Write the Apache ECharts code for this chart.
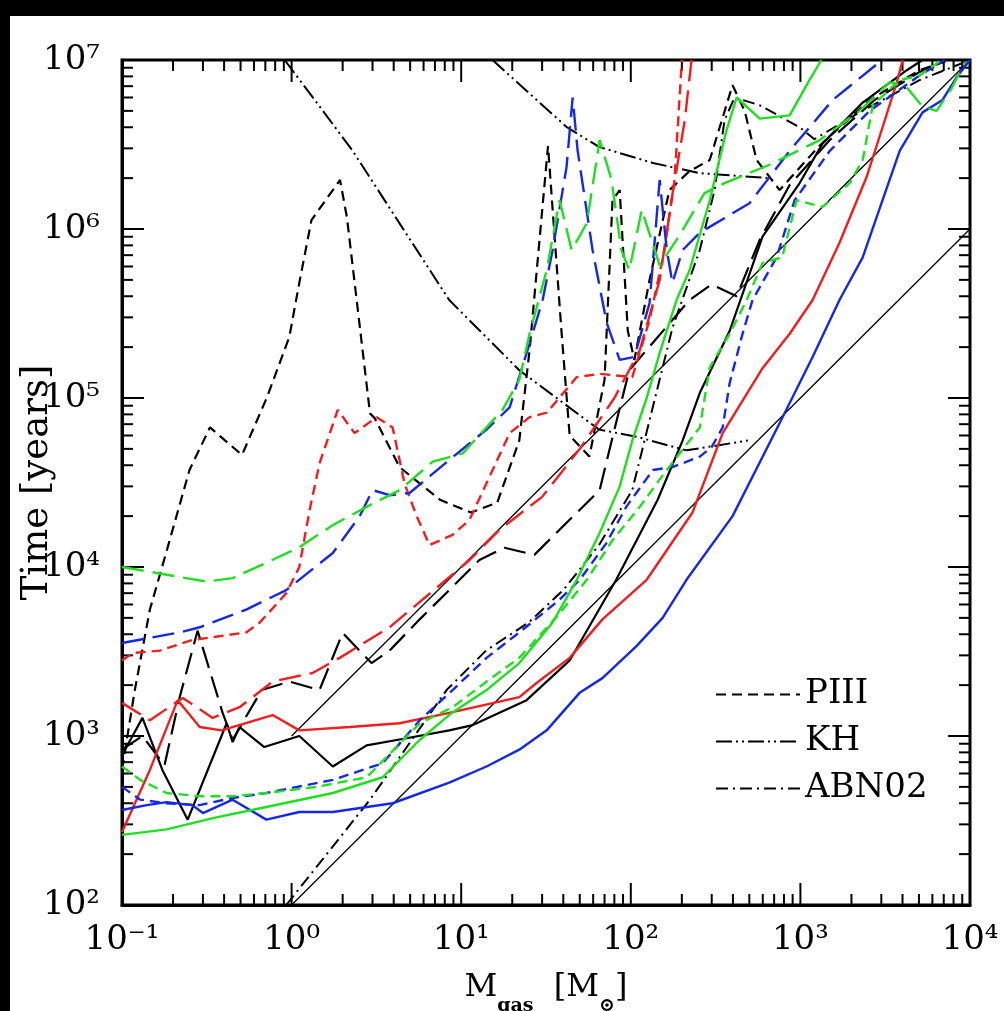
<!DOCTYPE html>
<html>
<head>
<meta charset="utf-8">
<script src="https://cdn.jsdelivr.net/npm/echarts@6/dist/echarts.min.js"></script>
<style>
  html, body { margin: 0; padding: 0; background: #fff; }
  #chart { width: 1004px; height: 1011px; }
</style>
</head>
<body>
<div id="chart"></div>
<script>
// accretion / contraction time scales vs gas mass

// axis ticks
const xMajor = [0.1, 1, 10, 100, 1000, 10000]
const yMajor = [100, 1000, 1e4, 1e5, 1e6, 1e7]
const minorSteps = [2, 3, 4, 5, 6, 7, 8, 9]

// reference lines t = 1000 M and t = 100 M
const thin1000 = [[1, 1000], [10000, 1e7]]
const thin100 = [[1, 100], [10000, 1e6]]

// black curves
const abn02 = [[0.93, 100], [2.9, 420], [8.2, 1870], [14, 3200], [25, 4700], [40, 7300], [65, 13500], [102, 28500], [176, 2.6e5], [255, 7.5e5], [312, 1.7e6], [357, 4.4e6], [409, 6e6], [575, 5.4e6], [990, 4e6], [1210, 3.4e6], [2230, 4.9e6], [5040, 7.6e6], [10000, 1e7]]
const khLower = [[0.91, 1e7], [1.37, 5.8e6], [2.29, 2.9e6], [4.33, 1.08e6], [8.5, 3.8e5], [22, 1.46e5], [65, 6.5e4], [108, 5.9e4], [213, 4.9e4], [490, 5.6e4]]
const khUpper = [[15.3, 1e7], [42, 4e6], [65, 3.06e6], [135, 2.46e6], [255, 2.14e6], [438, 2.06e6], [658, 2e6]]
const blackSolid = [[0.1, 770], [0.132, 1280], [0.173, 630], [0.244, 320], [0.414, 1190], [0.449, 920], [0.493, 1130], [0.69, 860], [1.11, 1000], [1.75, 660], [2.77, 880], [4.76, 970], [8.5, 1080], [11.7, 1160], [24.3, 1630], [43.6, 2800], [82, 8400], [144, 2.5e4], [202, 5.6e4], [255, 1.07e5], [383, 2.5e5], [598, 9e5], [990, 1.87e6], [1350, 3.2e6], [2330, 5.6e6], [4240, 8.7e6], [5250, 1e7]]
const blackLong = [[0.1, 830], [0.132, 1000], [0.178, 670], [0.219, 1700], [0.279, 4200], [0.392, 1370], [0.449, 950], [0.666, 1870], [0.97, 2100], [1.46, 1870], [2.0, 4070], [2.96, 2700], [3.78, 3200], [5.69, 4900], [8.5, 7300], [12.8, 1.1e4], [18, 1.3e4], [27, 1.18e4], [38, 1.66e4], [65.5, 2.85e4], [80, 6.5e4], [98, 1.46e5], [222, 3.8e5], [299, 4.7e5], [421, 4e5], [575, 8.6e5], [864, 1.82e6], [1490, 3.36e6], [2740, 5.8e6], [5040, 8.5e6], [7080, 1e7]]
const blackShort = [[0.1, 630], [0.119, 1870], [0.146, 5600], [0.184, 1.26e4], [0.25, 3.75e4], [0.33, 6.7e4], [0.51, 4.6e4], [0.716, 1.01e5], [0.97, 2.3e5], [1.11, 4.8e5], [1.31, 1.13e6], [1.93, 1.95e6], [2.12, 1.17e6], [2.9, 8.1e4], [3.09, 7.6e4], [4.33, 3.9e4], [7.5, 2.5e4], [11.4, 2.1e4], [16.3, 2.4e4], [22, 5.6e4], [25.3, 1.92e5], [32.5, 3.1e6], [39, 2.5e5], [43.6, 6e4], [57, 4.5e4], [70, 1.28e5], [78, 1.48e6], [86, 1.7e6], [96, 2.5e5], [105, 1.68e5], [129, 5e5], [169, 1.7e6], [222, 2.2e6], [292, 2.56e6], [398, 7.1e6], [469, 5e6], [552, 2.56e6], [754, 1.7e6], [1290, 3.1e6], [2560, 5.8e6], [5040, 8.7e6], [7590, 1e7]]

// red curves
const redSolid = [[0.1, 270], [0.146, 630], [0.213, 1630], [0.287, 1130], [0.386, 1080], [0.773, 1330], [1.11, 1080], [2.2, 1130], [4.33, 1190], [8.5, 1370], [22, 1700], [27.8, 2060], [43.6, 2900], [68, 4900], [124, 8400], [231, 2.1e4], [348, 6.2e4], [598, 1.5e5], [864, 2.4e5], [1180, 3.8e5], [1700, 8.3e5], [2455, 2.03e6], [3050, 4e6], [3690, 7.3e6], [4010, 1e7]]
const redShort = [[0.1, 2800], [0.116, 3100], [0.167, 3200], [0.26, 3700], [0.54, 4100], [0.65, 4700], [0.93, 7000], [1.11, 1e4], [1.28, 2.2e4], [1.46, 4.1e4], [1.87, 8.5e4], [2.35, 6.2e4], [3.17, 7.7e4], [3.94, 6.7e4], [4.64, 3.1e4], [5.46, 2e4], [6.5, 1.35e4], [8.9, 1.55e4], [11.2, 1.9e4], [19.3, 6.2e4], [25.3, 7.7e4], [32, 8.2e4], [48, 1.33e5], [65.5, 1.39e5], [102, 1.33e5], [129, 2.9e5], [158, 7.5e5], [181, 1.95e6], [200, 1e7]]
const redLong = [[0.1, 1570], [0.146, 1240], [0.228, 1680], [0.342, 1280], [0.493, 1480], [0.773, 2100], [1.33, 2360], [1.92, 2900], [3.78, 4400], [8.5, 8700], [11.2, 1.1e4], [16.8, 1.66e4], [30, 2.6e4], [50, 5e4], [80, 1e5], [113, 1.92e5], [148, 5e5], [174, 1.5e6], [208, 4.4e6], [228, 1e7]]

// blue curves
const blueSolid = [[0.1, 365], [0.14, 390], [0.183, 406], [0.26, 390], [0.3, 350], [0.449, 420], [0.71, 320], [1.11, 355], [1.75, 355], [3.94, 400], [8.5, 530], [14.1, 660], [22, 830], [31.9, 1080], [49.9, 1800], [68, 2200], [108, 3400], [154, 5000], [213, 8400], [398, 2e4], [785, 7.7e4], [1180, 1.75e5], [1700, 3.8e5], [2330, 6.8e5], [3050, 1.48e6], [3850, 2.9e6], [5250, 4.9e6], [6890, 5.8e6], [8330, 7.9e6], [10000, 1e7]]
const blueShort = [[0.1, 500], [0.128, 420], [0.183, 400], [0.287, 390], [0.449, 430], [0.71, 460], [1.75, 550], [3.44, 690], [5.7, 1240], [8.9, 1870], [14.1, 2900], [22, 4100], [38, 6400], [50, 8400], [72, 1.39e4], [94, 2.27e4], [135, 3.75e4], [176, 3.9e4], [255, 4.5e4], [299, 5.1e4], [348, 6.7e4], [383, 1.23e5], [456, 2.4e5], [522, 3.8e5], [724, 6.8e5], [925, 1.48e6], [1490, 2.9e6], [2560, 5e6], [5040, 8.1e6], [7080, 1e7]]
const blueLong = [[0.1, 3550], [0.218, 4100], [0.287, 4400], [0.54, 5600], [0.93, 7300], [1.75, 1.21e4], [2.52, 2e4], [3.0, 2.85e4], [3.78, 2.66e4], [4.96, 2.74e4], [8.5, 4.3e4], [14.1, 6.5e4], [19.3, 8.8e4], [25.3, 2.1e5], [30.2, 3.8e5], [34.6, 7.5e5], [41.8, 2.33e6], [45.4, 6e6], [48.6, 2.9e6], [59.5, 7.5e5], [72, 2.8e5], [86, 1.68e5], [105, 1.75e5], [129, 3.65e5], [148, 1.95e6], [163, 7.5e5], [176, 4.8e5], [202, 7.5e5], [255, 9.5e5], [501, 1.42e6], [864, 2.9e6], [1550, 5.8e6], [2810, 9.4e6], [3135, 1e7]]

// green curves
const greenSolid = [[0.1, 260], [0.183, 280], [0.36, 330], [0.71, 380], [1.75, 460], [3.44, 570], [5.7, 950], [8.8, 1370], [14.1, 1870], [22, 2700], [34.6, 4700], [48, 8400], [65.5, 1.59e4], [86, 3e4], [102, 5.6e4], [124, 1e5], [148, 1.85e5], [186, 3.8e5], [222, 5.7e5], [292, 1.48e6], [367, 3.85e6], [421, 6e6], [575, 4.5e6], [864, 4.7e6], [1130, 7.6e6], [1330, 1e7]]
const greenShort = [[0.1, 660], [0.128, 550], [0.183, 460], [0.287, 440], [0.449, 440], [0.71, 460], [1.4, 500], [2.77, 570], [5.7, 1190], [8.9, 1480], [14.1, 2100], [22, 2900], [38, 5300], [55, 8400], [78, 1.44e4], [113, 2.27e4], [148, 3.3e4], [194, 4.7e4], [255, 6.7e4], [292, 1.52e5], [383, 2.4e5], [482, 3.8e5], [598, 6.3e5], [780, 6.8e5], [950, 1.48e6], [1350, 1.35e6], [1950, 1.87e6], [2330, 2.56e6], [2670, 5.4e6], [3850, 7.6e6], [5040, 8.1e6], [6800, 1e7]]
const greenLong = [[0.1, 1e4], [0.183, 9000], [0.315, 8200], [0.449, 8600], [0.71, 1.06e4], [1.11, 1.31e4], [1.75, 1.77e4], [2.77, 2.27e4], [4.33, 2.85e4], [6.8, 4.2e4], [10.2, 4.7e4], [17.5, 8.5e4], [22, 1.28e5], [25.3, 2.4e5], [31.9, 5.7e5], [38, 1.48e6], [44.8, 7.5e5], [55, 1.08e6], [65.5, 3.36e6], [77, 1.95e6], [88, 7.5e5], [98, 5.7e5], [116, 1.3e6], [148, 6.1e5], [194, 9.2e5], [272, 1.63e6], [357, 1.87e6], [658, 2.4e6], [1300, 3.36e6], [2230, 5e6], [3360, 7.4e6], [4230, 6.9e6], [5250, 5.3e6], [6350, 5e6], [7800, 6.8e6], [9330, 9.7e6]]

const RED = '#f01e1e'
const BLUE = '#1428e6'
const GREEN = '#1ee01e'
const SHORT = [10, 6]
const LONG = [22, 9]
const KH = [16, 4, 2, 4, 2, 4]
const ABN = [12, 5, 2, 5]
const FONT = 'DejaVu Serif'

const sup = {'-': '\u207b', '0': '\u2070', '1': '\u00b9', '2': '\u00b2', '3': '\u00b3', '4': '\u2074', '5': '\u2075', '6': '\u2076', '7': '\u2077'}
function powLabel(v) {
  const e = String(Math.round(Math.log10(v)))
  return '10' + e.split('').map(c => sup[c]).join('')
}

function line(name, data, color, dash, width) {
  return {
    name, type: 'line', data,
    symbol: 'none', showSymbol: false, silent: true,
    lineStyle: { color, width, type: dash },
    itemStyle: { color },
  }
}

// tick data: [x, y, flag] with flag 1 = major
const xTicks = []
xMajor.forEach((d, i) => {
  xTicks.push([d, 100, 1])
  if (i < xMajor.length - 1) minorSteps.forEach(m => xTicks.push([d * m, 100, 0]))
})
const yTicks = []
yMajor.forEach((d, i) => {
  yTicks.push([0.1, d, 1])
  if (i < yMajor.length - 1) minorSteps.forEach(m => yTicks.push([0.1, d * m, 0]))
})

function tickLine(x1, y1, x2, y2) {
  return { type: 'line', shape: { x1, y1, x2, y2 }, style: { stroke: '#000', lineWidth: 2 } }
}

const chart = echarts.init(document.getElementById('chart'))
const options = {
  animation: false,
  backgroundColor: '#fff',
  graphic: [
    { type: 'rect', z: -10, shape: { x: 0, y: 0, width: 1004, height: 16 }, style: { fill: '#000' } },
    { type: 'rect', z: -10, shape: { x: 0, y: 0, width: 10, height: 1011 }, style: { fill: '#000' } },
  ],
  grid: {
    left: 122, right: 34, top: 60, bottom: 106,
    outerBoundsMode: 'none',
    show: true, borderColor: '#000', borderWidth: 3, backgroundColor: '#fff',
  },
  legend: {
    data: ['PIII', 'KH', 'ABN02'],
    orient: 'vertical',
    left: 710, top: 671,
    itemWidth: 84, itemHeight: 14, itemGap: 10,
    selectedMode: false,
    itemStyle: { opacity: 0 },
    textStyle: { fontFamily: FONT, fontSize: 34, color: '#000', lineHeight: 37 },
  },
  xAxis: {
    type: 'log', logBase: 10, min: 0.1, max: 10000,
    splitLine: { show: false },
    axisTick: { show: false },
    axisLine: { show: true, lineStyle: { color: '#000', width: 3 } },
    axisLabel: {
      margin: 18, color: '#000', fontFamily: FONT, fontSize: 34,
      formatter: powLabel,
    },
    name: '{m|M}{s|gas}{m|  [M}{s|\u2299}{m|]}',
    nameLocation: 'middle', nameGap: 67,
    nameTextStyle: {
      color: '#000',
      rich: {
        m: { fontFamily: FONT, fontSize: 32, color: '#000', verticalAlign: 'top', lineHeight: 34 },
        s: { fontFamily: FONT, fontSize: 19, fontWeight: 'bold', color: '#000', verticalAlign: 'bottom', lineHeight: 44 },
      },
    },
  },
  yAxis: {
    type: 'log', logBase: 10, min: 100, max: 1e7,
    splitLine: { show: false },
    axisTick: { show: false },
    axisLine: { show: true, lineStyle: { color: '#000', width: 3 } },
    axisLabel: {
      margin: 22, color: '#000', fontFamily: FONT, fontSize: 34,
      formatter: powLabel,
    },
    name: 'Time [years]',
    nameLocation: 'middle', nameGap: 66, nameRotate: 90,
    nameMoveOverlap: false,
    nameTextStyle: { color: '#000', fontFamily: FONT, fontSize: 37 },
  },
  series: [
    {
      type: 'custom', name: 'xticks', silent: true, data: xTicks,
      encode: { x: 0, y: 1 },
      renderItem(params, api) {
        const cs = params.coordSys
        const x = api.coord([api.value(0), 100])[0]
        const len = api.value(2) ? 22 : 11
        const yb = cs.y + cs.height
        return { type: 'group', children: [tickLine(x, yb, x, yb - len), tickLine(x, cs.y, x, cs.y + len)] }
      },
    },
    {
      type: 'custom', name: 'yticks', silent: true, data: yTicks,
      encode: { x: 0, y: 1 },
      renderItem(params, api) {
        const cs = params.coordSys
        const y = api.coord([0.1, api.value(1)])[1]
        const len = api.value(2) ? 22 : 11
        const xr = cs.x + cs.width
        return { type: 'group', children: [tickLine(cs.x, y, cs.x + len, y), tickLine(xr, y, xr - len, y)] }
      },
    },
    line('t1000', thin1000, '#000', 'solid', 1.3),
    line('t100', thin100, '#000', 'solid', 1.3),
    line('ABN02', abn02, '#000', ABN, 2),
    line('KH', khLower, '#000', KH, 2),
    line('KH', khUpper, '#000', KH, 2),
    line('black solid', blackSolid, '#000', 'solid', 2.2),
    line('black long', blackLong, '#000', LONG, 2.2),
    line('PIII', blackShort, '#000', SHORT, 2.2),
    line('red solid', redSolid, RED, 'solid', 2.4),
    line('red short', redShort, RED, SHORT, 2.4),
    line('red long', redLong, RED, LONG, 2.4),
    line('blue solid', blueSolid, BLUE, 'solid', 2.4),
    line('blue short', blueShort, BLUE, SHORT, 2.4),
    line('blue long', blueLong, BLUE, LONG, 2.4),
    line('green solid', greenSolid, GREEN, 'solid', 2.4),
    line('green short', greenShort, GREEN, SHORT, 2.4),
    line('green long', greenLong, GREEN, LONG, 2.4),
  ],
}
chart.setOption(options)
</script>
</body>
</html>
